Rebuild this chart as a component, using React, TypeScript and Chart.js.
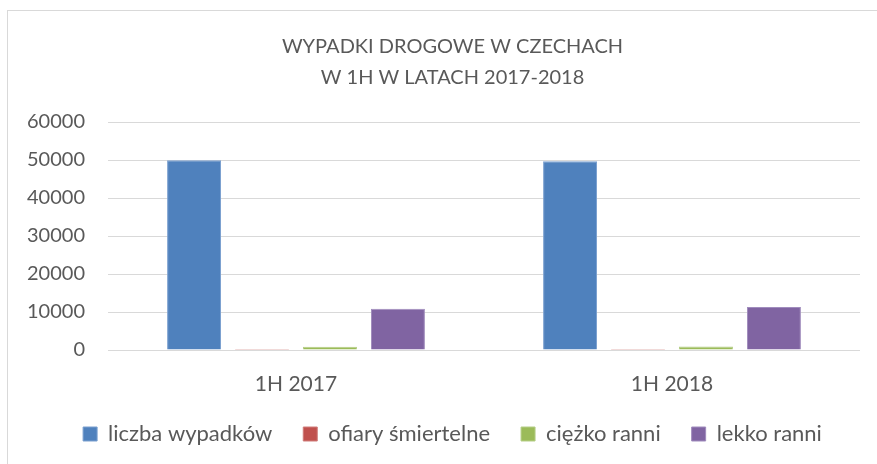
import React, { useEffect, useRef } from "react";
import { Chart, registerables } from "chart.js";

Chart.register(...registerables);

const categories = ["1H 2017", "1H 2018"];
const seriesNames = ["liczba wypadków", "ofiary śmiertelne", "ciężko ranni", "lekko ranni"];
const liczbaWypadkow = [49950, 49650];
const ofiarySmiertelne = [240, 250];
const ciezkoRanni = [850, 950];
const lekkoRanni = [10850, 11300];
const titleLines = ["WYPADKI DROGOWE W CZECHACH", "W 1H W LATACH 2017-2018"];
const yMin = 0;
const yMax = 60000;
const yStep = 10000;

const seriesColors = ["#4F81BD", "#C0504D", "#9BBB59", "#8064A2"];
const seriesBorders = ["#7A9FCF", "#D07C7A", "#B5CE87", "#A08CBD"];
const TEXT = "#595959";
const FONT = "Lato, 'Open Sans', sans-serif";
const TICK_SIZE = 20;

export default function App() {
  const ref = useRef<HTMLCanvasElement>(null);

  useEffect(() => {
    const values = [liczbaWypadkow, ofiarySmiertelne, ciezkoRanni, lekkoRanni];

    // measure widest y tick label so mirrored labels can be right-aligned left of the plot
    const mc = document.createElement("canvas").getContext("2d") as CanvasRenderingContext2D;
    mc.font = `normal ${TICK_SIZE}px ${FONT}`;
    let widest = 0;
    for (let v = yMin; v <= yMax; v += yStep) {
      widest = Math.max(widest, mc.measureText(String(v)).width);
    }

    const chart = new Chart(ref.current as HTMLCanvasElement, {
      type: "bar",
      data: {
        labels: categories,
        datasets: seriesNames.map((name, i) => ({
          label: name,
          data: values[i],
          backgroundColor: seriesColors[i],
          borderColor: seriesBorders[i],
          borderWidth: 1,
          categoryPercentage: 0.723,
          barPercentage: 0.794,
        })),
      },
      options: {
        responsive: false,
        animation: false,
        layout: { padding: { left: 37, right: 17, top: 0, bottom: 9 } },
        plugins: {
          title: {
            display: true,
            text: titleLines,
            color: TEXT,
            font: { family: FONT, size: 20, weight: "normal", lineHeight: 31 / 20 },
            padding: { top: 20, bottom: 29 },
          },
          legend: {
            position: "bottom",
            labels: {
              boxWidth: 14,
              boxHeight: 14,
              padding: 31,
              color: TEXT,
              font: { family: FONT, size: 22 },
            },
          },
          tooltip: { enabled: false },
        },
        scales: {
          x: {
            grid: { display: false },
            border: { display: false },
            ticks: { color: TEXT, font: { family: FONT, size: 21 }, padding: 14 },
            afterFit: (s: any) => {
              s.height = 42;
            },
          },
          y: {
            min: yMin,
            max: yMax,
            grid: { color: "#d9d9d9", lineWidth: 1, drawTicks: false },
            border: { display: false },
            ticks: {
              stepSize: yStep,
              color: TEXT,
              font: { family: FONT, size: TICK_SIZE },
              mirror: true,
              crossAlign: "far",
              padding: -23 - widest,
              callback: (v: any) => String(v),
            },
            afterFit: (s: any) => {
              s.width = 63;
            },
          },
        },
      },
    } as any);
    return () => chart.destroy();
  }, []);

  return (
    <div
      style={{
        position: "fixed",
        left: 0,
        top: 0,
        width: 877,
        height: 464,
        overflow: "hidden",
        background: "#ffffff",
      }}
    >
      <div
        style={{
          position: "absolute",
          left: 7,
          top: 10,
          width: 900,
          height: 500,
          border: "1px solid #d9d9d9",
          background: "#ffffff",
        }}
      >
        <canvas ref={ref} width={869} height={453} style={{ display: "block" }} />
      </div>
    </div>
  );
}
